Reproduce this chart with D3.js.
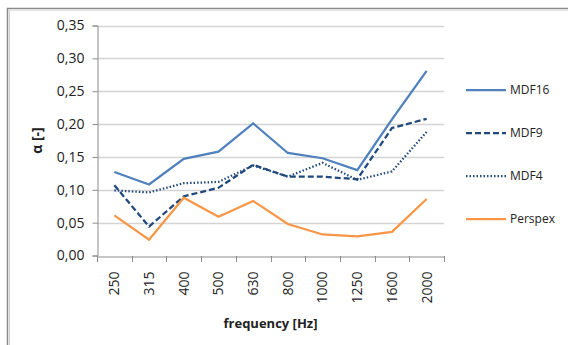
<!DOCTYPE html>
<html>
<head>
<meta charset="utf-8">
<script src="https://cdn.jsdelivr.net/npm/d3@7"></script>
<style>
  html, body { margin: 0; padding: 0; background: #fff; }
  svg { display: block; }
  text { font-family: "Open Sans", "Noto Sans", sans-serif; fill: #222; }
</style>
</head>
<body>
<svg id="chart" width="568" height="345"></svg>
<script>
// Frequency bands (third-octave centres)
const frequencies = ["250", "315", "400", "500", "630", "800", "1000", "1250", "1600", "2000"];

// Absorption coefficient per material
const mdf16   = [0.127, 0.108, 0.147, 0.158, 0.201, 0.156, 0.148, 0.130, 0.207, 0.281];
const mdf9    = [0.107, 0.044, 0.090, 0.103, 0.138, 0.120, 0.120, 0.116, 0.194, 0.208];
const mdf4    = [0.099, 0.096, 0.110, 0.112, 0.137, 0.120, 0.141, 0.115, 0.128, 0.188];
const perspex = [0.061, 0.024, 0.088, 0.059, 0.083, 0.048, 0.032, 0.029, 0.036, 0.086];

const seriesNames = ["MDF16", "MDF9", "MDF4", "Perspex"];
const yTicks = [0, 0.05, 0.10, 0.15, 0.20, 0.25, 0.30, 0.35];

const series = [
  { name: seriesNames[0], values: mdf16,   color: "#4F81BD", dash: null },
  { name: seriesNames[1], values: mdf9,    color: "#1F497D", dash: "6,3" },
  { name: seriesNames[2], values: mdf4,    color: "#1F497D", dash: "1.5,2" },
  { name: seriesNames[3], values: perspex, color: "#F79646", dash: null }
];

const svg = d3.select("#chart");
const plot = { left: 97, right: 444, top: 25.5, bottom: 255.5 };

// Chart frame
svg.append("rect")
  .attr("x", 7.5).attr("y", 8.5)
  .attr("width", 580).attr("height", 360)
  .attr("fill", "none").attr("stroke", "#8a8a8a").attr("stroke-width", 1.5);
svg.append("line")
  .attr("x1", 9).attr("x2", 568).attr("y1", 10.5).attr("y2", 10.5)
  .attr("stroke", "#e4e4e4").attr("stroke-width", 1);
svg.append("line")
  .attr("x1", 9.5).attr("x2", 9.5).attr("y1", 10).attr("y2", 345)
  .attr("stroke", "#d0d0d0").attr("stroke-width", 1);

const x = d3.scaleBand().domain(frequencies).range([plot.left, plot.right]).padding(0);
const y = d3.scaleLinear().domain([0, 0.35]).range([plot.bottom, plot.top]);
const fmt = v => d3.format(".2f")(v).replace(".", ",");

// Horizontal gridlines
svg.append("g")
  .selectAll("line")
  .data(yTicks.filter(d => d > 0))
  .join("line")
  .attr("x1", plot.left).attr("x2", plot.right)
  .attr("y1", d => Math.round(y(d)) + 0.5).attr("y2", d => Math.round(y(d)) + 0.5)
  .attr("stroke", "#d4d4d4").attr("stroke-width", 1.5);

// Y axis
const yAxis = svg.append("g")
  .attr("transform", `translate(${plot.left + 0.5},0)`)
  .call(d3.axisLeft(y).tickValues(yTicks).tickFormat(fmt).tickSize(5).tickPadding(8));
yAxis.select(".domain").attr("stroke", "#8c8c8c");
yAxis.selectAll(".tick line").attr("stroke", "#8c8c8c");
yAxis.selectAll(".tick text")
  .style("font-size", "14px").style("fill", "#222");

// X axis with ticks between categories
const xAxis = svg.append("g")
  .attr("transform", `translate(0,${Math.round(plot.bottom) + 0.5})`)
  .call(d3.axisBottom(x).tickSize(0).tickPadding(0));
xAxis.select(".domain").attr("stroke", "#8c8c8c");
xAxis.selectAll(".tick text")
  .style("font-size", "14px").style("fill", "#222")
  .attr("text-anchor", "end")
  .attr("transform", "rotate(-90)")
  .attr("x", -15).attr("y", 0).attr("dy", "0.35em");
svg.append("g")
  .selectAll("line")
  .data(d3.range(frequencies.length + 1))
  .join("line")
  .attr("x1", i => Math.round(plot.left + i * x.step()) + 0.5)
  .attr("x2", i => Math.round(plot.left + i * x.step()) + 0.5)
  .attr("y1", Math.round(plot.bottom)).attr("y2", Math.round(plot.bottom) + 6)
  .attr("stroke", "#8c8c8c");

// Series lines
const line = d3.line()
  .x((d, i) => x(frequencies[i]) + x.bandwidth() / 2)
  .y(d => y(d));
svg.append("g")
  .selectAll("path")
  .data(series)
  .join("path")
  .attr("d", s => line(s.values))
  .attr("fill", "none")
  .attr("stroke", s => s.color)
  .attr("stroke-width", 2.25)
  .attr("stroke-dasharray", s => s.dash);

// Axis titles
svg.append("text")
  .attr("transform", `translate(42,${(plot.top + plot.bottom) / 2}) rotate(-90)`)
  .attr("text-anchor", "middle")
  .style("font-size", "14px").style("font-weight", "bold")
  .text("α [-]");
svg.append("text")
  .attr("x", (plot.left + plot.right) / 2).attr("y", 328)
  .attr("text-anchor", "middle")
  .style("font-size", "13px").style("font-weight", "bold")
  .text("frequency [Hz]");

// Legend
const legend = svg.append("g")
  .selectAll("g")
  .data(series)
  .join("g")
  .attr("transform", (s, i) => `translate(466,${90 + i * 43})`);
legend.append("line")
  .attr("x1", 0).attr("x2", 40).attr("y1", 0).attr("y2", 0)
  .attr("stroke", s => s.color).attr("stroke-width", 2.25)
  .attr("stroke-dasharray", s => s.dash);
legend.append("text")
  .attr("x", 44).attr("y", 0).attr("dy", "0.35em")
  .style("font-size", "12px")
  .text(s => s.name);
</script>
</body>
</html>
